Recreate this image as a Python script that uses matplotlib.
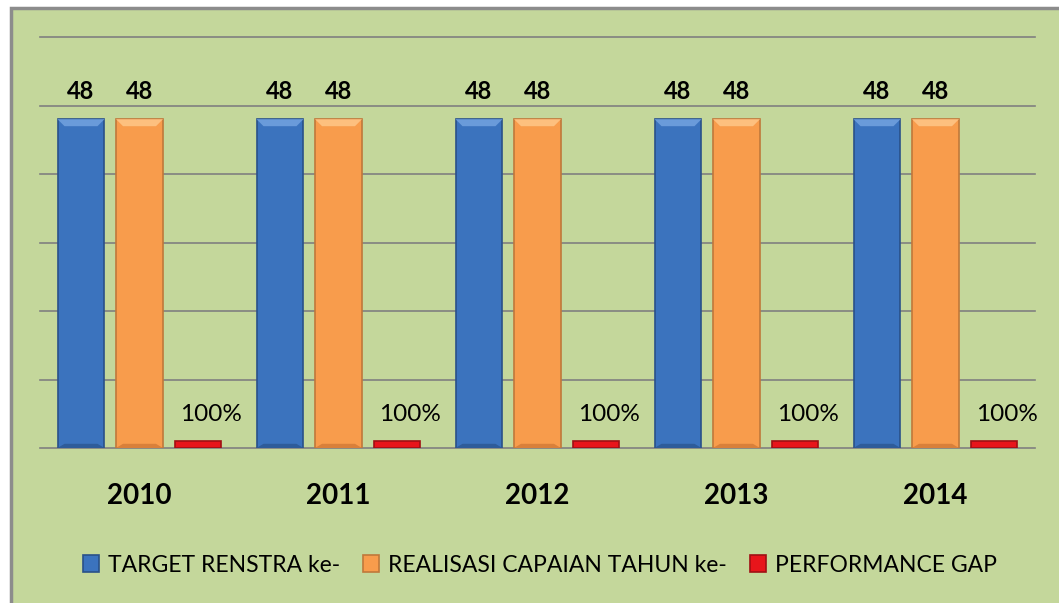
import numpy as np
import matplotlib.pyplot as plt
from matplotlib.patches import Rectangle, Polygon

years = ["2010", "2011", "2012", "2013", "2014"]
target = [48, 48, 48, 48, 48]
realisasi = [48, 48, 48, 48, 48]
gap = [1.0, 1.0, 1.0, 1.0, 1.0]
gap_labels = ["100%", "100%", "100%", "100%", "100%"]
series_names = ["TARGET RENSTRA ke-", "REALISASI CAPAIAN TAHUN ke-", "PERFORMANCE GAP"]

plt.rcParams['font.family'] = ['Lato', 'DejaVu Sans']

fig = plt.figure(figsize=(10.59, 6.03), dpi=100)
fig.patch.set_facecolor("white")
# green chart area with grey frame
fig.patches.append(Rectangle((11 / 1059, -0.01), 1.01, 1 - 8 / 603 + 0.01,
                             transform=fig.transFigure, facecolor="#C4D79B",
                             edgecolor="#8C8C8C", linewidth=2.5, zorder=-5))

ax = fig.add_axes([40 / 1059, 1 - 448 / 603, 995 / 1059, 411 / 603])
ax.set_facecolor("none")
ax.set_zorder(2)

x = np.arange(len(years))
w = 0.236
step = 0.294

ax.set_xlim(-0.5, len(years) - 0.5)
ax.set_ylim(0, 60)

b1 = ax.bar(x - step, target, w, color="#3B73BE", edgecolor="#2A5189", linewidth=1.2,
            label=series_names[0], zorder=3)
b2 = ax.bar(x, realisasi, w, color="#F89C4C", edgecolor="#C0783A", linewidth=1.2,
            label=series_names[1], zorder=3)
b3 = ax.bar(x + step, gap, w, color="#E8151B", edgecolor="#A01014", linewidth=1.2,
            label=series_names[2], zorder=3)

# bevel look: lighter top face, darker bottom face
px = 995 / ((len(years)) * 1.0)   # pixels per x unit
py = 411 / 60.0                   # pixels per y unit
d = 7
for bars, light, dark in [(b1, "#6A9BDA", "#2E5C9A"), (b2, "#FDC07F", "#D9803A")]:
    for r in bars:
        x0, x1 = r.get_x(), r.get_x() + r.get_width()
        top = r.get_height()
        dx, dy = d / px, d / py
        ax.add_patch(Polygon([(x0, top), (x1, top), (x1 - dx, top - dy), (x0 + dx, top - dy)],
                             closed=True, facecolor=light, edgecolor="none", zorder=4))
        ax.add_patch(Polygon([(x0, 0), (x1, 0), (x1 - dx, dy * 0.6), (x0 + dx, dy * 0.6)],
                             closed=True, facecolor=dark, edgecolor="none", zorder=4))

for rect, v in zip(list(b1) + list(b2), target + realisasi):
    ax.annotate(str(v), (rect.get_x() + rect.get_width() / 2, v), xytext=(0, 20),
                textcoords="offset points", ha="center", va="center",
                fontsize=17, fontweight="bold", color="black")
for rect, v, lab in zip(b3, gap, gap_labels):
    ax.annotate(lab, (rect.get_x() + rect.get_width() / 2, v), xytext=(9, 19),
                textcoords="offset points", ha="center", va="center",
                fontsize=17.5, color="black")

ax.set_yticks(np.arange(10, 61, 10))
ax.yaxis.grid(True, color="#808080", linewidth=1.2, zorder=0)
for gl in ax.get_ygridlines():
    gl.set_clip_on(False)
ax.set_axisbelow(True)
ax.tick_params(axis="y", left=False, labelleft=False)
ax.tick_params(axis="x", bottom=False, pad=22)
ax.set_xticks(x)
ax.set_xticklabels(years, fontsize=20, fontweight="bold")
for s in ["top", "right", "left"]:
    ax.spines[s].set_visible(False)
ax.spines["bottom"].set_color("#808080")
ax.spines["bottom"].set_linewidth(1.2)

fig.legend(handles=[b1, b2, b3], labels=series_names, loc="center",
           bbox_to_anchor=(540 / 1059, 1 - 565 / 603), ncol=3, frameon=False,
           fontsize=16.5, handlelength=0.7, handleheight=0.7, handletextpad=0.4,
           columnspacing=1.0)

fig.savefig("out.png", dpi=100)
